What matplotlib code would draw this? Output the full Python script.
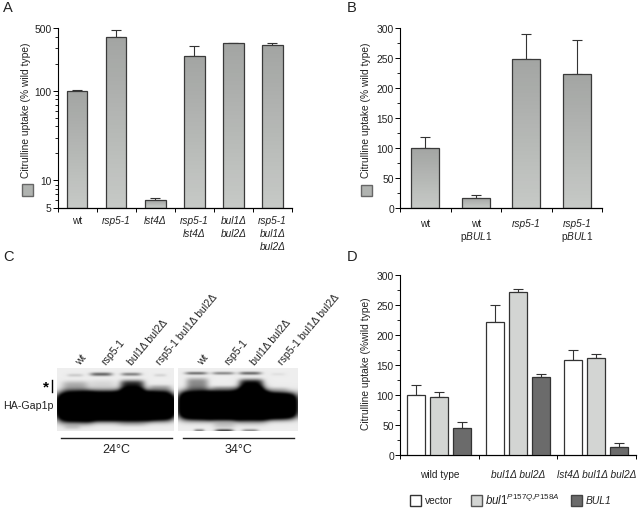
import numpy as np
import matplotlib
matplotlib.use("Agg")
import matplotlib.pyplot as plt
from matplotlib.colors import LinearSegmentedColormap
from matplotlib.patches import Rectangle
from matplotlib.lines import Line2D
from matplotlib.ticker import NullFormatter

plt.rcParams['font.family'] = ['Liberation Sans', 'DejaVu Sans']
plt.rcParams['mathtext.fontset'] = 'custom'
plt.rcParams['mathtext.rm'] = 'Liberation Sans'
plt.rcParams['mathtext.it'] = 'Liberation Sans:italic'

W, H = 640, 510

# panel A
a_labels = ['wt', 'rsp5-1', 'lst4Δ', 'rsp5-1\nlst4Δ', 'bul1Δ\nbul2Δ', 'rsp5-1\nbul1Δ\nbul2Δ']
a_values = [100, 394, 6, 242, 338, 321]
a_err_top = [102, 472, 6.3, 318, 338, 338]

# panel B
b_labels = ['wt', 'wt\n$\\mathrm{p}\\mathit{BUL1}$', 'rsp5-1', 'rsp5-1\n$\\mathrm{p}\\mathit{BUL1}$']
b_values = [100, 18, 249, 224]
b_err_top = [119, 22, 291, 281]

# panel D
d_groups = ['wild type', 'bul1Δ bul2Δ', 'lst4Δ bul1Δ bul2Δ']
d_vector = [100, 222, 158]
d_vector_top = [116, 250, 174]
d_mutant = [96, 271, 162]
d_mutant_top = [105, 276, 168]
d_bul1 = [45, 129, 14]
d_bul1_top = [55, 134, 20]
d_names = ['vector', '$\\mathit{bul1}^{\\mathit{P157Q{,}P158A}}$', 'BUL1']

# panel C, lane labels and bands: x, y, half width, half height, strength
c_lanes = ['wt', 'rsp5-1', 'bul1Δ bul2Δ', 'rsp5-1 bul1Δ bul2Δ']
c_left_bands = [
    (116, 407, 56, 13, 1.6),
    (75, 408, 17, 15, 1.6), (102, 407, 16, 14, 1.6), (132, 406, 17, 15, 1.6), (159, 407, 14, 13.5, 1.6),
    (75, 388, 13, 6, 0.28), (102, 387, 13, 6, 0.1), (132, 387, 12, 6, 0.85), (160, 390, 11, 4, 0.3),
    (75, 376, 8, 1.2, 0.18), (101, 375, 11, 1.5, 0.65), (131, 375, 10, 1.3, 0.55), (160, 376, 6, 1, 0.15),
    (72, 428, 8, 2, 0.12), (132, 424, 14, 3, 0.12),
]
c_right_bands = [
    (238, 406, 56, 13, 1.6),
    (196, 406, 16, 14, 1.6), (224, 407, 16, 13, 1.6), (251, 405, 16, 16, 1.6), (278, 407, 17, 12, 1.6),
    (197, 385, 11, 6, 0.42), (224, 390, 13, 3, 0.3), (251, 386, 12, 6, 0.95), (278, 390, 10, 2, 0.1),
    (196, 374, 11, 1, 0.75), (223, 374, 11, 1, 0.6), (250, 374, 11, 1.2, 0.7), (278, 375, 7, 1, 0.08),
    (199, 431, 5, 1, 0.5), (224, 431, 9, 1, 0.8), (250, 431, 8, 1, 0.45), (224, 426, 11, 3, 0.15),
]
c_temps = ['24°C', '34°C']

bar_cmap = LinearSegmentedColormap.from_list('bar', ['#c6c9c6', '#a3a5a3'])


def axes_px(fig, left, top, right, bottom):
    return fig.add_axes([left / W, 1 - bottom / H, (right - left) / W, (bottom - top) / H])


def ftext(fig, x, y, s, **kw):
    kw.setdefault('fontsize', 7.4)
    kw.setdefault('color', '#222222')
    return fig.text(x / W, 1 - y / H, s, **kw)


def swatch(fig, left, top, right, bottom, color, edge='#333333'):
    fig.add_artist(Rectangle((left / W, 1 - bottom / H), (right - left) / W, (bottom - top) / H,
                             transform=fig.transFigure, facecolor=color, edgecolor=edge, linewidth=1.0))


def style_axes(ax):
    for side in ['top', 'right']:
        ax.spines[side].set_visible(False)
    ax.spines['left'].set_linewidth(0.8)
    ax.spines['bottom'].set_linewidth(0.9)
    ax.tick_params(axis='y', which='major', length=3.6, width=0.7, pad=0.8, labelsize=7.4, labelcolor='#222222')
    ax.tick_params(axis='y', which='minor', length=2, width=0.6)
    ax.tick_params(axis='x', which='major', length=3, width=0.7)
    ax.tick_params(axis='x', which='minor', length=0, labelsize=7.3, labelcolor='#222222')


def gradient_bars(ax, values, tops, width, floor, log=False):
    centers = np.arange(len(values)) + 0.5
    for x, v in zip(centers, values):
        ys = np.geomspace(floor, v, 40) if log else np.linspace(floor, v, 40)
        grad = np.linspace(0, 1, 39).reshape(-1, 1)
        ax.pcolormesh([x - width / 2, x + width / 2], ys, grad, cmap=bar_cmap, vmin=0, vmax=1, zorder=2)
    ax.bar(centers, np.array(values) - floor, width, bottom=floor, facecolor='none',
           edgecolor='#3a3a3a', linewidth=0.9, zorder=3)
    errs = np.array(tops) - np.array(values)
    ax.errorbar(centers, values, yerr=[np.zeros(len(errs)), errs], fmt='none', ecolor='#333333',
                elinewidth=0.8, capsize=3.4, capthick=0.8, zorder=1)
    return centers


def category_ticks(ax, n, labels, pad):
    ax.set_xlim(0, n)
    ax.set_xticks(np.arange(n + 1))
    ax.set_xticklabels([])
    ax.set_xticks(np.arange(n) + 0.5, labels, minor=True)
    ax.tick_params(axis='x', which='minor', pad=pad)


def draw_blot(ax, left, top, right, bottom, bands):
    xs = np.arange(left, right, 0.5)
    ys = np.arange(top, bottom, 0.5)
    xx, yy = np.meshgrid(xs, ys)
    dark = np.zeros_like(xx)
    for cx, cy, sx, sy, s in bands:
        dark += s * np.exp(-((xx - cx) / sx) ** 4 - ((yy - cy) / sy) ** 4)
    dark = np.clip(dark, 0, 1)
    # soften the edges a little, film look
    kernel = np.array([1, 2, 3, 4, 3, 2, 1]) / 16
    pad = np.pad(dark, 3, mode='edge')
    pad = np.apply_along_axis(lambda r: np.convolve(r, kernel, mode='same'), 0, pad)
    pad = np.apply_along_axis(lambda r: np.convolve(r, kernel, mode='same'), 1, pad)
    img = 0.93 * (1 - pad[3:-3, 3:-3])
    ax.imshow(img, cmap='gray', vmin=0, vmax=1, extent=(left, right, bottom, top), aspect='auto',
              interpolation='bilinear')
    ax.axis('off')


fig = plt.figure(figsize=(W / 100, H / 100), dpi=100)

# A
ax = axes_px(fig, 57.5, 29, 292, 208.5)
ax.set_yscale('log')
gradient_bars(ax, a_values, a_err_top, 0.53, 5, log=True)
ax.set_ylim(5, 500)
ax.set_yticks([5, 10, 100, 500], ['5', '10', '100', '500'])
ax.set_yticks([6, 7, 8, 9, 20, 30, 40, 50, 60, 70, 80, 90, 200, 300, 400], minor=True)
ax.yaxis.set_minor_formatter(NullFormatter())
style_axes(ax)
category_ticks(ax, len(a_labels), a_labels, 5.5)
for lab in ax.get_xticklabels(minor=True)[1:]:
    lab.set_fontstyle('italic')
for lab in ax.get_xticklabels(minor=True):
    lab.set_linespacing(1.35)
ftext(fig, 26, 110, 'Citrulline uptake (% wild type)', rotation=90, ha='center', va='center')
swatch(fig, 21.7, 184.5, 33.3, 196.5, '#b0b3b0', '#666666')
ftext(fig, 3, 8, 'A', fontsize=10.5, va='center')

# B
ax = axes_px(fig, 400, 29.3, 602, 209.3)
gradient_bars(ax, b_values, b_err_top, 0.56, 0)
ax.set_ylim(0, 300)
ax.set_yticks(np.arange(0, 301, 50))
ax.set_yticks(np.arange(25, 300, 50), minor=True)
style_axes(ax)
category_ticks(ax, len(b_labels), b_labels, 7)
for i in [2, 3]:
    ax.get_xticklabels(minor=True)[i].set_fontstyle('italic')
for lab in ax.get_xticklabels(minor=True):
    lab.set_linespacing(1.05)
ftext(fig, 366, 110, 'Citrulline uptake (% wild type)', rotation=90, ha='center', va='center')
swatch(fig, 360.7, 185.5, 372.3, 197.3, '#b0b3b0', '#666666')
ftext(fig, 347, 8, 'B', fontsize=10.5, va='center')

# C
ax = axes_px(fig, 57, 369, 174, 432)
draw_blot(ax, 57, 369, 174, 432, c_left_bands)
ax = axes_px(fig, 178, 369, 298, 432)
draw_blot(ax, 178, 369, 298, 432, c_right_bands)
for xpos in [[82, 107.5, 134, 162], [204, 230, 256.5, 284]]:
    for x, name in zip(xpos, c_lanes):
        ftext(fig, x, 367, name, rotation=50, rotation_mode='anchor', ha='left', va='bottom', fontsize=7.6)
ftext(fig, 3.3, 405.7, 'HA-Gap1p', ha='left', va='center', fontsize=7.7)
ftext(fig, 45.7, 387, '*', ha='center', va='center', fontsize=11, fontweight='bold', color='black')
fig.add_artist(Line2D([52.3 / W, 52.3 / W], [1 - 380.7 / H, 1 - 392.7 / H], color='black', linewidth=1.0))
for x0, x1, temp in zip([61, 183], [172, 293.7], c_temps):
    fig.add_artist(Line2D([x0 / W, x1 / W], [1 - 438.7 / H, 1 - 438.7 / H], color='#222222', linewidth=1.0))
    ftext(fig, (x0 + x1) / 2, 450, temp, ha='center', va='center', fontsize=9)
ftext(fig, 3, 257, 'C', fontsize=10.5, va='center')

# D
ax = axes_px(fig, 400, 275.7, 635.7, 456)
centers = np.arange(3) + 0.5
offset = 0.293
bar_w = 0.23
series = [(d_vector, d_vector_top, 'white'), (d_mutant, d_mutant_top, '#d3d5d3'), (d_bul1, d_bul1_top, '#6b6b6b')]
for i, (vals, tops, color) in enumerate(series):
    xs = centers + (i - 1) * offset
    ax.bar(xs, vals, bar_w, facecolor=color, edgecolor='#333333', linewidth=0.9, zorder=3)
    errs = np.array(tops) - np.array(vals)
    ax.errorbar(xs, vals, yerr=[np.zeros(3), errs], fmt='none', ecolor='#333333',
                elinewidth=0.8, capsize=3.4, capthick=0.8, zorder=1)
ax.set_ylim(0, 300)
ax.set_yticks(np.arange(0, 301, 50))
ax.set_yticks(np.arange(25, 300, 50), minor=True)
style_axes(ax)
category_ticks(ax, 3, d_groups, 10)
for lab in ax.get_xticklabels(minor=True)[1:]:
    lab.set_fontstyle('italic')
ftext(fig, 366, 364, 'Citrulline uptake (%wild type)', rotation=90, ha='center', va='center')
ftext(fig, 347, 257, 'D', fontsize=10.5, va='center')
swatch(fig, 410.3, 495.7, 421, 506.7, 'white')
swatch(fig, 470.7, 495.7, 481.7, 506.7, '#d3d5d3', '#555555')
swatch(fig, 571, 495.7, 582, 506.7, '#6b6b6b', '#444444')
ftext(fig, 425, 501, d_names[0], ha='left', va='center')
ftext(fig, 485.3, 500.5, d_names[1], ha='left', va='center', fontsize=8.3)
ftext(fig, 585.7, 501, d_names[2], ha='left', va='center', fontstyle='italic')

fig.savefig('out.png', dpi=100)
